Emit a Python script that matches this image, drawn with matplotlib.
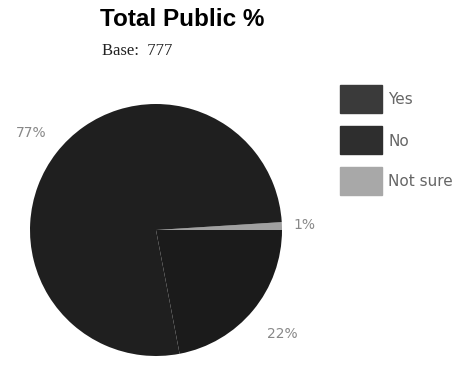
import matplotlib.pyplot as plt
import numpy as np
from matplotlib.patches import Rectangle

# values
labels = ['Yes', 'No', 'Not sure']
values = [77, 22, 1]
colors = ['#1f1f1f', '#1b1b1b', '#a0a0a0']
legend_colors = ['#3a3a3a', '#2e2e2e', '#a8a8a8']
label_dist = [1.25, 1.3, 1.18]

fig = plt.figure(figsize=(4.66, 3.78), dpi=100)

fig.text(100 / 466, 1 - 19 / 378, 'Total Public %', fontsize=17.5, fontweight='bold',
         family='Liberation Sans', va='center', ha='left')
fig.text(102 / 466, 1 - 51 / 378, 'Base:  777', fontsize=12, family='Liberation Serif',
         va='center', ha='left', color='#222222')

ax = fig.add_axes([30 / 466, 22 / 378, 252 / 466, 252 / 378])
# draw clockwise starting with the thin "Not sure" slice at 3 o'clock
order = [2, 1, 0]
wedges, _ = ax.pie([values[i] for i in order], colors=[colors[i] for i in order],
                   startangle=3.6, counterclock=False, radius=1,
                   wedgeprops=dict(linewidth=0))
for w, i in zip(wedges, order):
    ang = np.deg2rad((w.theta1 + w.theta2) / 2)
    d = label_dist[i]
    ax.text(d * np.cos(ang), d * np.sin(ang), f'{values[i]}%', fontsize=10,
            color='#888888', ha='center', va='center', family='DejaVu Sans')
ax.set_xlim(-1, 1)
ax.set_ylim(-1, 1)
ax.set_aspect('equal')
ax.axis('off')

# legend drawn as boxes with labels
box_top = [85, 126, 167]
for lab, c, y in zip(labels, legend_colors, box_top):
    fig.patches.append(Rectangle((340 / 466, 1 - (y + 28) / 378), 42 / 466, 28 / 378,
                                 transform=fig.transFigure, color=c))
    fig.text(388 / 466, 1 - (y + 15) / 378, lab, fontsize=11, color='#666666',
             family='DejaVu Sans', va='center', ha='left')

fig.savefig('out.png', dpi=100)
